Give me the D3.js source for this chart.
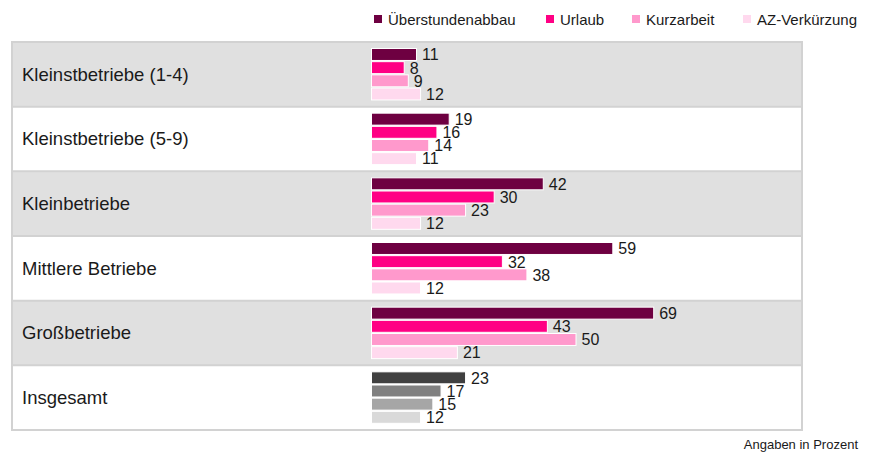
<!DOCTYPE html>
<html><head><meta charset="utf-8">
<script src="https://cdn.jsdelivr.net/npm/d3@7"></script>
<style>body{margin:0;background:#fff;} text{font-family:"Liberation Sans",Arial,sans-serif;}</style>
</head><body>
<svg id="c" width="872" height="452"></svg>
<script>
const categories = ["Kleinstbetriebe (1-4)","Kleinstbetriebe (5-9)","Kleinbetriebe","Mittlere Betriebe","Großbetriebe","Insgesamt"];
const seriesNames = ["Überstundenabbau","Urlaub","Kurzarbeit","AZ-Verkürzung"];
const ueberstundenabbau = [11,19,42,59,69,23];
const urlaub = [8,16,30,32,43,17];
const kurzarbeit = [9,14,23,38,50,15];
const azVerkuerzung = [12,11,12,12,21,12];
const seriesColors = ["#6e0041","#ff0084","#ff99cc","#ffd9ee"];
const totalColors = ["#404040","#808080","#a6a6a6","#d9d9d9"];
const footnote = "Angaben in Prozent";

const values = [ueberstundenabbau, urlaub, kurzarbeit, azVerkuerzung];
const svg = d3.select("#c");

const box = {l:12, t:42, r:802, b:430};
const y = d3.scaleBand().domain(categories).range([box.t, box.b]).padding(0);
const yi = d3.scaleBand().domain(seriesNames).range([6, y.bandwidth()-6]).padding(0);
const x = d3.scaleLinear().domain([0,100]).range([371.5, 780.5]);

// row backgrounds
svg.selectAll("rect.row").data(categories).join("rect")
  .attr("x", box.l).attr("y", d=>y(d)).attr("width", box.r-box.l).attr("height", y.bandwidth())
  .attr("fill", (d,i)=> i%2===0 ? "#e0e0e0" : "#ffffff");
// separators
svg.selectAll("line.sep").data(categories.slice(1)).join("line")
  .attr("x1", box.l).attr("x2", box.r).attr("y1", d=>y(d)).attr("y2", d=>y(d))
  .attr("stroke","#d2d2d2").attr("stroke-width",2);
// border
svg.append("rect").attr("x",box.l).attr("y",box.t).attr("width",box.r-box.l).attr("height",box.b-box.t)
  .attr("fill","none").attr("stroke","#d2d2d2").attr("stroke-width",2);

// category labels
svg.selectAll("text.cat").data(categories).join("text")
  .attr("x", 22).attr("y", d=>y(d)+y.bandwidth()/2).attr("dy","0.35em")
  .attr("font-size","18.5px").attr("fill","#1a1a1a").text(d=>d);

// bars
const g = svg.selectAll("g.cat").data(categories).join("g").attr("transform", d=>`translate(0,${y(d)})`);
g.each(function(cat, ci){
  const gg = d3.select(this);
  const data = seriesNames.map((s,si)=>({s, si, v: values[si][ci]}));
  const isTotal = cat === "Insgesamt";
  gg.selectAll("rect").data(data).join("rect")
    .attr("x", x(0)).attr("y", d=>yi(d.s)+0.5).attr("width", d=>x(d.v)-x(0)).attr("height", yi.bandwidth()-1.2)
    .attr("fill", d=> isTotal ? totalColors[d.si] : seriesColors[d.si])
    .attr("stroke","#fff").attr("stroke-width",1);
  gg.selectAll("text").data(data).join("text")
    .attr("x", d=>x(d.v)+5.5).attr("y", d=>yi(d.s)+yi.bandwidth()/2).attr("dy","0.36em")
    .attr("font-size","16px").attr("fill","#1a1a1a").text(d=>d.v);
});

// legend
const legX = [374, 546, 632, 743];
const lg = svg.selectAll("g.leg").data(seriesNames).join("g").attr("transform",(d,i)=>`translate(${legX[i]},0)`);
lg.append("rect").attr("x",0).attr("y",15).attr("width",8).attr("height",8).attr("fill",(d,i)=>seriesColors[i]);
lg.append("text").attr("x",14).attr("y",24.5).attr("font-size","15px").attr("fill","#1a1a1a").text(d=>d);

svg.append("text").attr("x",858).attr("y",449).attr("text-anchor","end").attr("font-size","13px").attr("fill","#1a1a1a").text(footnote);
</script>
</body></html>
